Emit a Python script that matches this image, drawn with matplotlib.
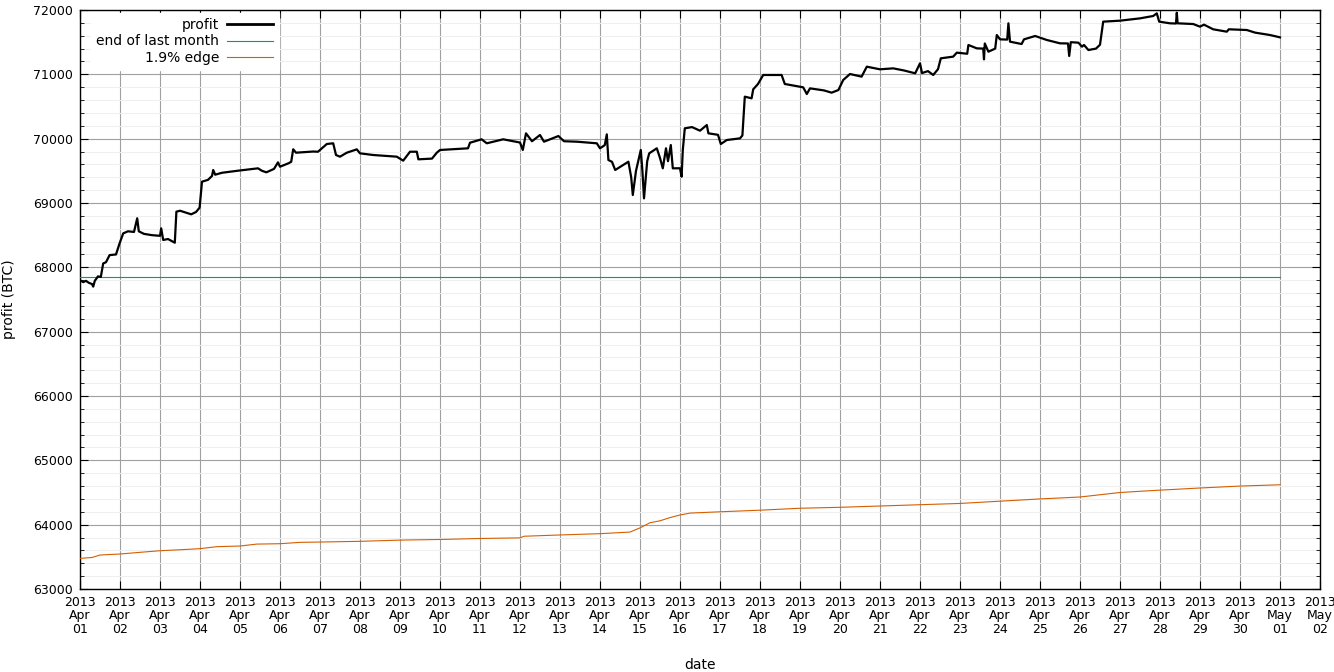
import numpy as np
import pandas as pd
import matplotlib
matplotlib.use('Agg')
import matplotlib.pyplot as plt
import matplotlib.dates as mdates
from matplotlib.ticker import MultipleLocator

# days since 2013-04-01 00:00 and profit
profit_day = [0.00, 0.08, 0.15, 0.22, 0.30, 0.33, 0.37, 0.45, 0.52, 0.58, 0.65, 0.74, 0.90, 0.99,
              1.08, 1.20, 1.35, 1.43, 1.47, 1.60, 1.80, 2.00, 2.03, 2.08, 2.20, 2.37, 2.41, 2.50,
              2.78, 2.90, 2.99, 3.05, 3.20, 3.30, 3.33, 3.38, 3.55, 3.95, 4.20, 4.45, 4.55, 4.66,
              4.85, 4.95, 5.00, 5.21, 5.28, 5.33, 5.40, 5.83, 5.95, 6.17, 6.33, 6.40, 6.50, 6.67,
              6.92, 7.00, 7.33, 7.92, 8.08, 8.25, 8.42, 8.46, 8.80, 8.92, 9.00, 9.70, 9.75, 10.04,
              10.17, 10.58, 11.00, 11.07, 11.15, 11.30, 11.50, 11.60, 11.96, 12.10, 12.42, 12.92,
              13.00, 13.12, 13.17, 13.21, 13.30, 13.38, 13.60, 13.71, 13.78, 13.82, 13.90, 14.02,
              14.06, 14.10, 14.18, 14.23, 14.42, 14.50, 14.57, 14.65, 14.70, 14.77, 14.82, 15.00,
              15.04, 15.07, 15.12, 15.30, 15.50, 15.67, 15.71, 15.95, 16.02, 16.17, 16.50, 16.56,
              16.62, 16.79, 16.83, 16.95, 17.08, 17.54, 17.62, 18.08, 18.17, 18.25, 18.60, 18.79,
              18.96, 19.08, 19.25, 19.54, 19.67, 20.00, 20.33, 20.60, 20.88, 21.00, 21.05, 21.20,
              21.33, 21.45, 21.52, 21.83, 21.92, 22.18, 22.21, 22.42, 22.58, 22.60, 22.62, 22.71,
              22.88, 22.92, 23.00, 23.18, 23.21, 23.25, 23.54, 23.60, 23.88, 24.17, 24.50, 24.70,
              24.73, 24.77, 24.96, 25.05, 25.10, 25.21, 25.40, 25.50, 25.58, 26.00, 26.50, 26.83,
              26.92, 26.98, 27.25, 27.40, 27.42, 27.44, 27.83, 28.00, 28.10, 28.33, 28.67, 28.72,
              29.17, 29.38, 29.75, 30.00]
profit_btc = [67800, 67770, 67790, 67760, 67740, 67700, 67790, 67860, 67850, 68060, 68080, 68190, 68200, 68373,
              68528, 68560, 68550, 68762, 68560, 68520, 68500, 68490, 68606, 68425, 68440, 68383, 68865, 68880,
              68824, 68860, 68927, 69331, 69360, 69420, 69513, 69440, 69470, 69502, 69520, 69539, 69500, 69477,
              69530, 69632, 69564, 69617, 69640, 69835, 69782, 69800, 69797, 69917, 69928, 69746, 69720, 69782,
              69834, 69772, 69746, 69720, 69658, 69797, 69797, 69679, 69690, 69782, 69824, 69850, 69937, 69990,
              69928, 69990, 69940, 69824, 70083, 69960, 70057, 69953, 70041, 69960, 69953, 69928,
              69850, 69900, 70067, 69668, 69640, 69513, 69600, 69642, 69400, 69124, 69500, 69824,
              69500, 69072, 69650, 69772, 69850, 69700, 69539, 69850, 69650, 69901, 69539, 69540,
              69409, 69824, 70161, 70180, 70124, 70212, 70083, 70060, 69917, 69979, 70005, 70050,
              70653, 70627, 70767, 70850, 70990, 70990, 70850, 70798, 70694, 70782, 70750, 70715,
              70756, 70912, 71005, 70964, 71119, 71078, 71093, 71060, 71016, 71171, 71020, 71050,
              70990, 71080, 71249, 71275, 71337, 71320, 71456, 71404, 71400, 71233, 71480, 71352,
              71400, 71611, 71544, 71540, 71793, 71508, 71471, 71544, 71596, 71534, 71482, 71480,
              71285, 71500, 71492, 71430, 71456, 71378, 71400, 71460, 71819, 71834, 71870, 71907,
              71948, 71819, 71793, 71790, 71958, 71793, 71782, 71741, 71772, 71700, 71663, 71700,
              71689, 71648, 71611, 71575]

last_month_day = [0.0, 30.0]
last_month_btc = [67850, 67850]

edge_day = [0.0, 0.3, 0.5, 1.0, 1.5, 2.0, 2.5, 3.0, 3.42, 4.0, 4.42, 5.0, 5.5, 6.0, 7.0, 8.0, 9.0,
            10.0, 11.0, 11.1, 12.0, 13.0, 13.75, 14.0, 14.25, 14.5, 14.75, 15.0, 15.25, 16.0, 17.0,
            18.0, 19.0, 20.0, 21.0, 22.0, 23.0, 24.0, 25.0, 26.0, 26.75, 28.0, 29.0, 30.0]
edge_btc = [63476, 63490, 63528, 63544, 63570, 63595, 63610, 63627, 63658, 63668, 63698, 63704, 63725,
            63730, 63741, 63760, 63770, 63785, 63795, 63820, 63840, 63860, 63885, 63950, 64030, 64060,
            64110, 64150, 64180, 64200, 64225, 64255, 64270, 64290, 64310, 64330, 64365, 64400, 64430,
            64500, 64528, 64570, 64600, 64620]

start = pd.Timestamp('2013-04-01')
def to_time(days):
    return start + pd.to_timedelta(np.array(days), unit='D')

plt.rcParams['font.family'] = ['DejaVu Sans']
fig = plt.figure(figsize=(13.34, 6.72), dpi=100)
ax = fig.add_axes([80 / 1334, 1 - 589 / 672, 1240 / 1334, 579 / 672])

ax.plot(to_time(profit_day), profit_btc, color='black', lw=1.6, label='profit', zorder=4)
ax.plot(to_time(last_month_day), last_month_btc, color='#009e73', lw=0.8, label='end of last month', zorder=3)
ax.plot(to_time(edge_day), edge_btc, color='#d55e00', lw=0.8, label='1.9% edge', zorder=3)

ax.set_xlim(pd.Timestamp('2013-04-01'), pd.Timestamp('2013-05-02'))
ax.set_ylim(63000, 72000)
ax.xaxis.set_major_locator(mdates.DayLocator())
ax.xaxis.set_major_formatter(mdates.DateFormatter('%Y\n%b\n%d'))
ax.yaxis.set_major_locator(MultipleLocator(1000))
ax.yaxis.set_minor_locator(MultipleLocator(200))

ax.grid(True, which='major', color='#a0a0a0', lw=0.8)
ax.grid(True, which='minor', axis='y', color='#efefef', lw=0.8)
ax.set_axisbelow(True)
ax.tick_params(which='both', direction='in', top=True, right=True, labelsize=9, pad=5)
ax.tick_params(which='major', length=6)
ax.tick_params(which='minor', length=3)
for lab in ax.get_xticklabels():
    lab.set_linespacing(1.05)
for s in ax.spines.values():
    s.set_color('black')
    s.set_linewidth(1)

ax.set_xlabel('date', fontsize=10, labelpad=16)
ax.set_ylabel('profit (BTC)', fontsize=10, labelpad=12)

leg = ax.legend(loc='upper right', bbox_to_anchor=(0.1625, 1.0), markerfirst=False, fontsize=10,
                handlelength=3.3, handletextpad=0.6, labelspacing=0.15, borderaxespad=0.2,
                frameon=True, fancybox=False)
leg.get_frame().set_facecolor('white')
leg.get_frame().set_edgecolor('white')
leg.get_frame().set_alpha(1)
leg.get_lines()[0].set_linewidth(2)

fig.savefig('out.png', dpi=100)
